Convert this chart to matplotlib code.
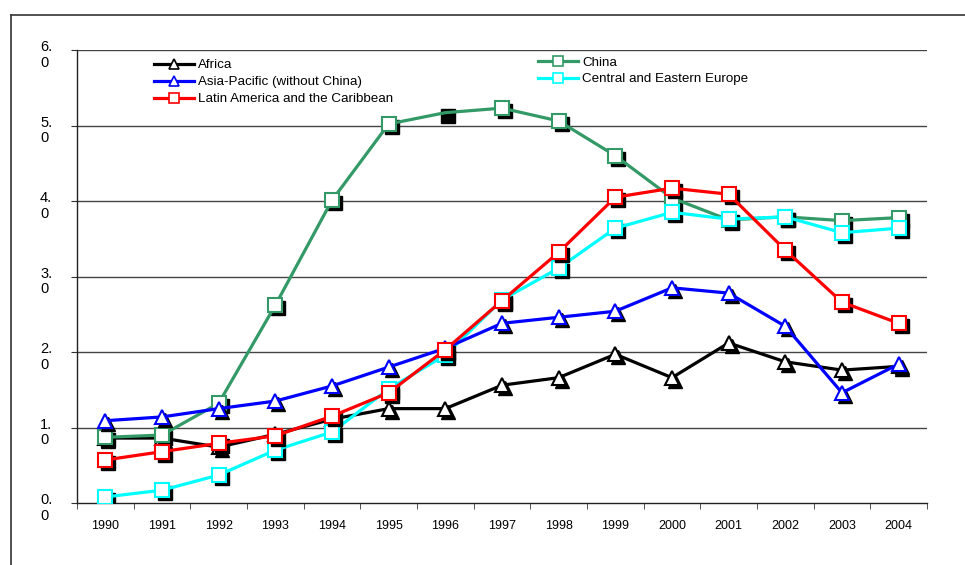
import numpy as np
import matplotlib
matplotlib.use('Agg')
import matplotlib.pyplot as plt
import matplotlib.transforms as mtransforms
from matplotlib.lines import Line2D

matplotlib.rc('font', family='Liberation Sans')

# data
years = ['1990', '1991', '1992', '1993', '1994', '1995', '1996', '1997',
         '1998', '1999', '2000', '2001', '2002', '2003', '2004']
africa = [0.86, 0.86, 0.74, 0.91, 1.11, 1.25, 1.25, 1.56, 1.66, 1.97,
          1.66, 2.12, 1.87, 1.76, 1.81]
asia_pacific = [1.09, 1.14, 1.25, 1.35, 1.55, 1.80, 2.05, 2.38, 2.46, 2.54,
                2.85, 2.78, 2.34, 1.46, 1.84]
latin_america = [0.57, 0.68, 0.79, 0.89, 1.15, 1.46, 2.03, 2.68, 3.32, 4.05,
                 4.17, 4.09, 3.35, 2.66, 2.38]
china = [0.87, 0.90, 1.32, 2.62, 4.01, 5.02, 5.17, 5.23, 5.06, 4.60,
         4.04, 3.75, 3.79, 3.74, 3.78]
cee = [0.08, 0.17, 0.37, 0.70, 0.94, 1.51, 1.96, 2.69, 3.11, 3.64,
       3.85, 3.76, 3.79, 3.58, 3.64]
y_ticks = [0, 1, 2, 3, 4, 5, 6]
y_labels = ['0.\n0', '1.\n0', '2.\n0', '3.\n0', '4.\n0', '5.\n0', '6.\n0']

# series styles: (label, values, colour, marker, zorder)
series = [
    ('Africa', africa, '#000000', '^', 3),
    ('China', china, '#339966', 's', 4),
    ('Central and Eastern Europe', cee, '#00FFFF', 's', 5),
    ('Asia-Pacific (without China)', asia_pacific, '#0000FF', '^', 6),
    ('Latin America and the Caribbean', latin_america, '#FF0000', 's', 7),
]

fig = plt.figure(figsize=(9.65, 5.65), dpi=100)
ax = fig.add_axes([77 / 965, 1 - 503 / 565, 850 / 965, 453 / 565])

x = np.arange(len(years))
shadow = mtransforms.offset_copy(ax.transData, fig=fig, x=3, y=-3, units='dots')

handles = {}
for name, vals, col, mk, z in series:
    # black drop shadow under each marker
    ax.plot(x, vals, linestyle='none', marker=mk, markersize=9.5,
            color='black', transform=shadow, zorder=z - 0.5)
    ln, = ax.plot(x, vals, color=col, lw=2.3, zorder=z - 0.4)
    every = [i for i in range(len(x)) if not (name == 'China' and i == 6)]
    ax.plot(x, vals, linestyle='none', marker=mk, markersize=9.5,
            markerfacecolor='white', markeredgecolor=col, markeredgewidth=1.5,
            markevery=every, zorder=z)
    handles[name] = Line2D([], [], color=col, lw=2.3, marker=mk, markersize=7,
                           markerfacecolor='white', markeredgecolor=col,
                           markeredgewidth=1.2)

ax.set_xlim(-0.5, len(years) - 0.5)
ax.set_ylim(0, 6)
ax.set_yticks(y_ticks)
ax.set_yticklabels([])
# wrapped y labels, placed by hand like the original
ylab_tr = mtransforms.offset_copy(ax.get_yaxis_transform(), fig=fig,
                                  x=0, y=-5, units='dots')
for yv, lab in zip(y_ticks, y_labels):
    ax.text(-37 / 850, yv, lab, transform=ylab_tr, fontsize=10.5,
            ha='left', va='center', linespacing=1.15, clip_on=False)
ax.set_xticks(x)
ax.set_xticklabels(years, fontsize=9)
ax.set_xticks(np.arange(-0.5, len(years)), minor=True)
ax.tick_params(axis='x', which='major', length=0, pad=12)
ax.tick_params(axis='x', which='minor', length=4, direction='out', color='#333333')
ax.tick_params(axis='y', length=4, direction='out', color='#333333')

for yv in y_ticks[1:]:
    ax.axhline(yv, color='#444444', lw=1, zorder=1)

for side in ['top', 'right']:
    ax.spines[side].set_visible(False)
for side in ['left', 'bottom']:
    ax.spines[side].set_color('#222222')
    ax.spines[side].set_linewidth(1)

# legends
leg1 = ax.legend([handles['Africa'], handles['Asia-Pacific (without China)'],
                  handles['Latin America and the Caribbean']],
                 ['Africa', 'Asia-Pacific (without China)',
                  'Latin America and the Caribbean'],
                 loc='upper left', bbox_to_anchor=(0.083, 0.995), frameon=False,
                 fontsize=9.6, handlelength=3.0, handletextpad=0.3,
                 labelspacing=0.35, borderaxespad=0.1)
ax.add_artist(leg1)
ax.legend([handles['China'], handles['Central and Eastern Europe']],
          ['China', 'Central and Eastern Europe'],
          loc='upper left', bbox_to_anchor=(0.535, 1.0), frameon=False,
          fontsize=9.6, handlelength=3.0, handletextpad=0.3,
          labelspacing=0.3, borderaxespad=0.1)

# outer chart frame (left and top edges)
fig.add_artist(Line2D([11 / 965, 11 / 965], [0, 1 - 15 / 565],
                      color='#333333', lw=1.2, transform=fig.transFigure))
fig.add_artist(Line2D([11 / 965, 1], [1 - 15 / 565, 1 - 15 / 565],
                      color='#333333', lw=1.2, transform=fig.transFigure))

plt.savefig('out.png', dpi=100)
